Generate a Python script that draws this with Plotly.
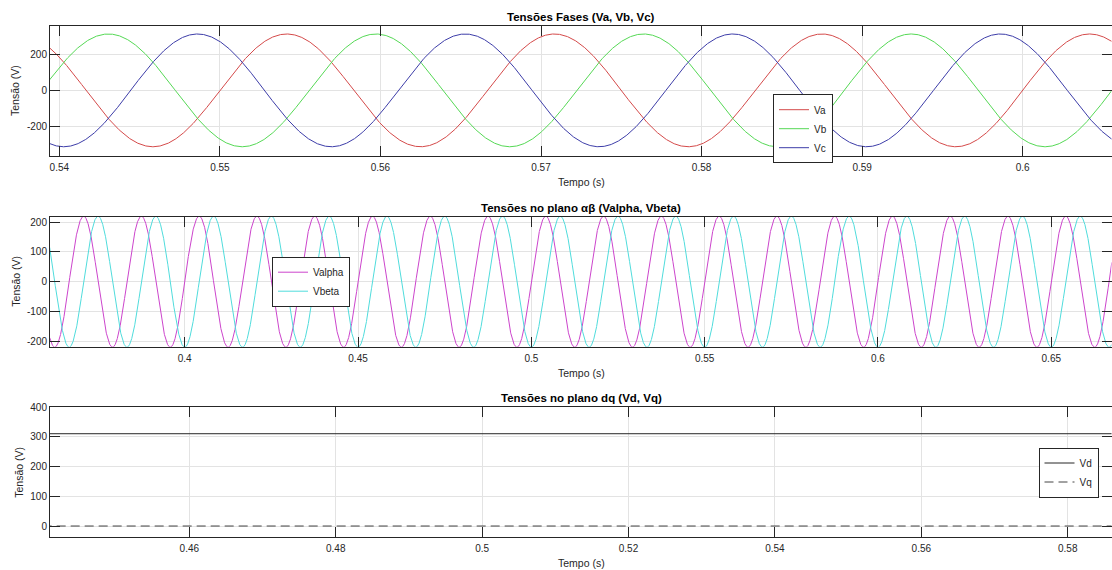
import numpy as np
import plotly.graph_objects as go

# ---- signal parameters (three-phase grid, 60 Hz) ----
F_HZ = 60.0
PHASE_PEAK = 311.0          # Va, Vb, Vc peak voltage [V]
ALPHA_BETA_PEAK = 220.0     # Valpha, Vbeta peak voltage [V]
PHASE_SHIFTS_DEG = {"Va": 0.0, "Vb": -120.0, "Vc": 120.0}
VD_LEVEL = 311.0            # direct-axis voltage [V]
VQ_LEVEL = 0.0              # quadrature-axis voltage [V]

# ---- axis windows and ticks ----
X1_RANGE = [0.53942, 0.60553]
X1_TICKS = [0.54, 0.55, 0.56, 0.57, 0.58, 0.59, 0.60]
X1_TEXT = ["0.54", "0.55", "0.56", "0.57", "0.58", "0.59", "0.6"]
Y1_RANGE = [-362, 355]
Y1_TICKS = [-200, 0, 200]
Y1_TEXT = ["-200", "0", "200"]

X2_RANGE = [0.36114, 0.66737]
X2_TICKS = [0.40, 0.45, 0.50, 0.55, 0.60, 0.65]
X2_TEXT = ["0.4", "0.45", "0.5", "0.55", "0.6", "0.65"]
Y2_RANGE = [-218, 218]
Y2_TICKS = [-200, -100, 0, 100, 200]
Y2_TEXT = ["-200", "-100", "0", "100", "200"]

X3_RANGE = [0.44097, 0.58598]
X3_TICKS = [0.46, 0.48, 0.50, 0.52, 0.54, 0.56, 0.58]
X3_TEXT = ["0.46", "0.48", "0.5", "0.52", "0.54", "0.56", "0.58"]
Y3_RANGE = [-38, 400]
Y3_TICKS = [0, 100, 200, 300, 400]
Y3_TEXT = ["0", "100", "200", "300", "400"]

W, H = 1112, 570
FONT = "Liberation Sans, Arial, Helvetica, sans-serif"
INK = "#262626"
GRID = "#e3e3e3"

# ---- simulated waveforms ----
w = 2 * np.pi * F_HZ
t1 = np.arange(X1_RANGE[0] - 1e-4, X1_RANGE[1] + 1e-4, 2e-5)
t2 = np.arange(X2_RANGE[0] - 1e-4, X2_RANGE[1] + 1e-4, 2e-5)
t3 = np.array([X3_RANGE[0] - 1e-3, X3_RANGE[1] + 1e-3])

phase_v = {k: PHASE_PEAK * np.sin(w * t1 + np.deg2rad(s)) for k, s in PHASE_SHIFTS_DEG.items()}
v_alpha = ALPHA_BETA_PEAK * np.sin(w * t2)
v_beta = ALPHA_BETA_PEAK * np.sin(w * t2 - np.pi / 2)
v_d = np.full_like(t3, VD_LEVEL)
v_q = np.full_like(t3, VQ_LEVEL)

fig = go.Figure()
colors1 = {"Va": "#d44a4a", "Vb": "#55d855", "Vc": "#3d3da8"}
for name, vals in phase_v.items():
    fig.add_trace(go.Scatter(x=t1, y=vals, mode="lines", name=name,
                             line=dict(color=colors1[name], width=1),
                             xaxis="x", yaxis="y", legend="legend"))
fig.add_trace(go.Scatter(x=t2, y=v_alpha, mode="lines", name="Valpha",
                         line=dict(color="#cc45cc", width=1),
                         xaxis="x2", yaxis="y2", legend="legend2"))
fig.add_trace(go.Scatter(x=t2, y=v_beta, mode="lines", name="Vbeta",
                         line=dict(color="#50dcdc", width=1),
                         xaxis="x2", yaxis="y2", legend="legend2"))
fig.add_trace(go.Scatter(x=t3, y=v_d, mode="lines", name="Vd",
                         line=dict(color="#262626", width=1),
                         xaxis="x3", yaxis="y3", legend="legend3"))
fig.add_trace(go.Scatter(x=t3, y=v_q, mode="lines", name="Vq",
                         line=dict(color="#444444", width=1, dash="9px,5px"),
                         xaxis="x3", yaxis="y3", legend="legend3"))


def px_x(x):
    return x / W


def px_y(y):
    return 1 - y / H


def axis_common(**kw):
    d = dict(showline=True, linecolor=INK, linewidth=1, mirror="ticks",
             ticks="inside", ticklen=10, tickwidth=1, tickcolor=INK,
             showgrid=True, gridcolor=GRID, gridwidth=1, zeroline=False,
             automargin=False,
             tickfont=dict(family=FONT, size=10, color=INK))
    d.update(kw)
    return d


x_dom = [px_x(50), px_x(1111.5)]
panels = [  # (top px, bottom px)
    (26, 156),
    (216.7, 346.7),
    (407.3, 537.3),
]
xr = [X1_RANGE, X2_RANGE, X3_RANGE]
xt = [(X1_TICKS, X1_TEXT), (X2_TICKS, X2_TEXT), (X3_TICKS, X3_TEXT)]
yr = [Y1_RANGE, Y2_RANGE, Y3_RANGE]
yt = [(Y1_TICKS, Y1_TEXT), (Y2_TICKS, Y2_TEXT), (Y3_TICKS, Y3_TEXT)]

layout = {}
for i in range(3):
    sfx = "" if i == 0 else str(i + 1)
    top, bot = panels[i]
    layout["xaxis" + sfx] = axis_common(domain=x_dom, range=xr[i], anchor="y" + sfx,
                                         tickvals=xt[i][0], ticktext=xt[i][1],
                                         ticklabelstandoff=2)
    layout["yaxis" + sfx] = axis_common(domain=[px_y(bot), px_y(top)], range=yr[i],
                                         anchor="x" + sfx,
                                         tickvals=yt[i][0], ticktext=yt[i][1])

legend_style = dict(bgcolor="white", bordercolor=INK, borderwidth=1,
                    font=dict(family=FONT, size=10, color=INK),
                    xanchor="center", yanchor="middle", xref="paper", yref="paper",
                    tracegroupgap=0, itemwidth=30)
layout["legend"] = dict(legend_style, x=px_x(803), y=px_y(128.7))
layout["legend2"] = dict(legend_style, x=px_x(311), y=px_y(281.7))
layout["legend3"] = dict(legend_style, x=px_x(1068.5), y=px_y(472.5))

titles = [
    ("<b>Tensões Fases (Va, Vb, Vc)</b>", 17),
    ("<b>Tensões no plano αβ (Valpha, Vbeta)</b>", 207.5),
    ("<b>Tensões no plano dq (Vd, Vq)</b>", 398),
]
xlabels_y = [182, 373, 563]
ylabels = [(15, 91), (16, 281.7), (19.5, 472.3)]

ann = []
for (txt, yy) in titles:
    ann.append(dict(text=txt, x=px_x(581), y=px_y(yy), xref="paper", yref="paper",
                    showarrow=False, xanchor="center", yanchor="middle",
                    font=dict(family=FONT, size=11.5, color="#000000")))
for yy in xlabels_y:
    ann.append(dict(text="Tempo (s)", x=px_x(581), y=px_y(yy), xref="paper", yref="paper",
                    showarrow=False, xanchor="center", yanchor="middle",
                    font=dict(family=FONT, size=10.5, color=INK)))
for (xx, yy) in ylabels:
    ann.append(dict(text="Tensão (V)", x=px_x(xx), y=px_y(yy), xref="paper", yref="paper",
                    showarrow=False, xanchor="center", yanchor="middle", textangle=-90,
                    font=dict(family=FONT, size=10.5, color=INK)))

fig.update_layout(width=W, height=H,
                  margin=dict(l=0, r=0, t=0, b=0, pad=0, autoexpand=False),
                  paper_bgcolor="white", plot_bgcolor="white",
                  showlegend=True, annotations=ann, **layout)

fig.write_html("out.html")
